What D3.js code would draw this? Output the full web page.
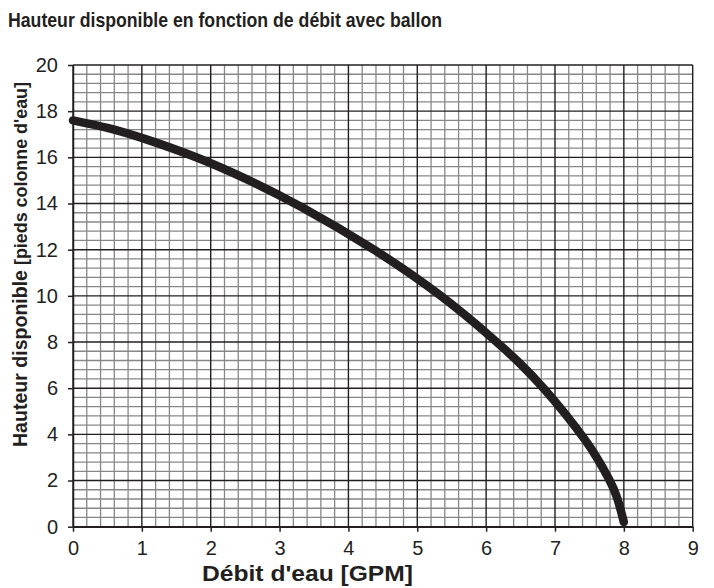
<!DOCTYPE html>
<html>
<head>
<meta charset="utf-8">
<script src="https://cdn.jsdelivr.net/npm/d3@7"></script>
<style>
  html, body { margin: 0; padding: 0; background: #fff; }
  svg { display: block; font-family: "Liberation Sans", Arial, sans-serif; }
</style>
</head>
<body>
<svg id="chart" width="714" height="588"></svg>
<script>
// Pump curve: available head vs. water flow (with expansion tank)
const flowGPM = [0, 0.5, 1, 1.82, 2.5, 3.25, 4.4, 5.37, 6.12, 6.5, 6.84, 7.15, 7.45, 7.6, 7.8, 7.9, 8];
const headFt  = [17.6, 17.3, 16.86, 16, 15.1, 14, 12, 10.0, 8.1, 7.07, 6, 4.9, 3.72, 3.05, 2.0, 1.35, 0.2];

const xTicks = [0, 1, 2, 3, 4, 5, 6, 7, 8, 9];
const yTicks = [0, 2, 4, 6, 8, 10, 12, 14, 16, 18, 20];

const titleText = "Hauteur disponible en fonction de débit avec ballon";
const xLabel = "Débit d'eau [GPM]";
const yLabelMain = "Hauteur disponible";
const yLabelUnit = "[pieds colonne d'eau]";

const svg = d3.select("#chart");
const plotLeft = 73, plotRight = 692.7, plotTop = 65, plotBottom = 526.7;

const x = d3.scaleLinear().domain([0, 9]).range([plotLeft, plotRight]);
const y = d3.scaleLinear().domain([0, 20]).range([plotBottom, plotTop]);

const dark = "#231f20";
const minorGrey = "#878787";

// Minor grid: every 0.2 GPM and every 0.4 ft
const xMinor = d3.range(0, 45).map(i => i * 0.2).filter(v => Math.abs(v - Math.round(v)) > 1e-6);
const yMinor = d3.range(0, 50).map(i => i * 0.4).filter(v => Math.abs(v / 2 - Math.round(v / 2)) > 1e-6);

const grid = svg.append("g");
grid.append("g").selectAll("line").data(xMinor).join("line")
  .attr("x1", d => x(d)).attr("x2", d => x(d))
  .attr("y1", y(0)).attr("y2", y(20))
  .attr("stroke", minorGrey).attr("stroke-width", 1.3);
grid.append("g").selectAll("line").data(yMinor).join("line")
  .attr("y1", d => y(d)).attr("y2", d => y(d))
  .attr("x1", x(0)).attr("x2", x(9))
  .attr("stroke", minorGrey).attr("stroke-width", 1.3);

// Major grid
grid.append("g").selectAll("line").data(xTicks).join("line")
  .attr("x1", d => x(d)).attr("x2", d => x(d))
  .attr("y1", y(0)).attr("y2", y(20))
  .attr("stroke", dark).attr("stroke-width", 1.4);
grid.append("g").selectAll("line").data(yTicks).join("line")
  .attr("y1", d => y(d)).attr("y2", d => y(d))
  .attr("x1", x(0)).attr("x2", x(9))
  .attr("stroke", dark).attr("stroke-width", 1.4);

// Axes
const xAxis = d3.axisBottom(x).tickValues(xTicks).tickSize(5).tickSizeOuter(0).tickPadding(9).tickFormat(d3.format("d"));
const yAxis = d3.axisLeft(y).tickValues(yTicks).tickSize(5).tickSizeOuter(0).tickPadding(10).tickFormat(d3.format("d"));

const gx = svg.append("g").attr("transform", `translate(0,${plotBottom})`).call(xAxis);
const gy = svg.append("g").attr("transform", `translate(${plotLeft},0)`).call(yAxis);
[gx, gy].forEach(g => {
  g.select(".domain").attr("stroke", dark).attr("stroke-width", 1.5);
  g.selectAll(".tick line").attr("stroke", dark).attr("stroke-width", 1.5);
  g.selectAll(".tick text").attr("fill", dark)
    .style("font-family", "'Liberation Sans', Arial, sans-serif").style("font-size", "20px");
});

// Curve (B-spline smoothing through the read points)
const line = d3.line().x((d, i) => x(flowGPM[i])).y(d => y(d)).curve(d3.curveBasis);
svg.append("path").datum(headFt)
  .attr("d", line)
  .attr("fill", "none")
  .attr("stroke", dark)
  .attr("stroke-width", 8.5)
  .attr("stroke-linecap", "round")
  .attr("stroke-linejoin", "round");

// Title
svg.append("text").attr("x", 8).attr("y", 27)
  .attr("font-size", 21).attr("font-weight", "bold").attr("fill", dark)
  .attr("textLength", 434).attr("lengthAdjust", "spacingAndGlyphs")
  .text(titleText);

// X label
svg.append("text").attr("x", 202).attr("y", 581)
  .attr("font-size", 22).attr("font-weight", "bold").attr("fill", dark)
  .attr("textLength", 211).attr("lengthAdjust", "spacingAndGlyphs")
  .text(xLabel);

// Y label (two parts, rotated)
svg.append("text").attr("transform", "translate(27,447) rotate(-90)")
  .attr("font-size", 21).attr("font-weight", "bold").attr("fill", dark)
  .attr("textLength", 177).attr("lengthAdjust", "spacingAndGlyphs")
  .text(yLabelMain);
svg.append("text").attr("transform", "translate(27,265) rotate(-90)")
  .attr("font-size", 18).attr("font-weight", "bold").attr("fill", dark)
  .style("font-family", "'Liberation Sans Narrow', 'Liberation Sans', Arial, sans-serif")
  .attr("textLength", 183).attr("lengthAdjust", "spacingAndGlyphs")
  .text(yLabelUnit);
</script>
</body>
</html>
